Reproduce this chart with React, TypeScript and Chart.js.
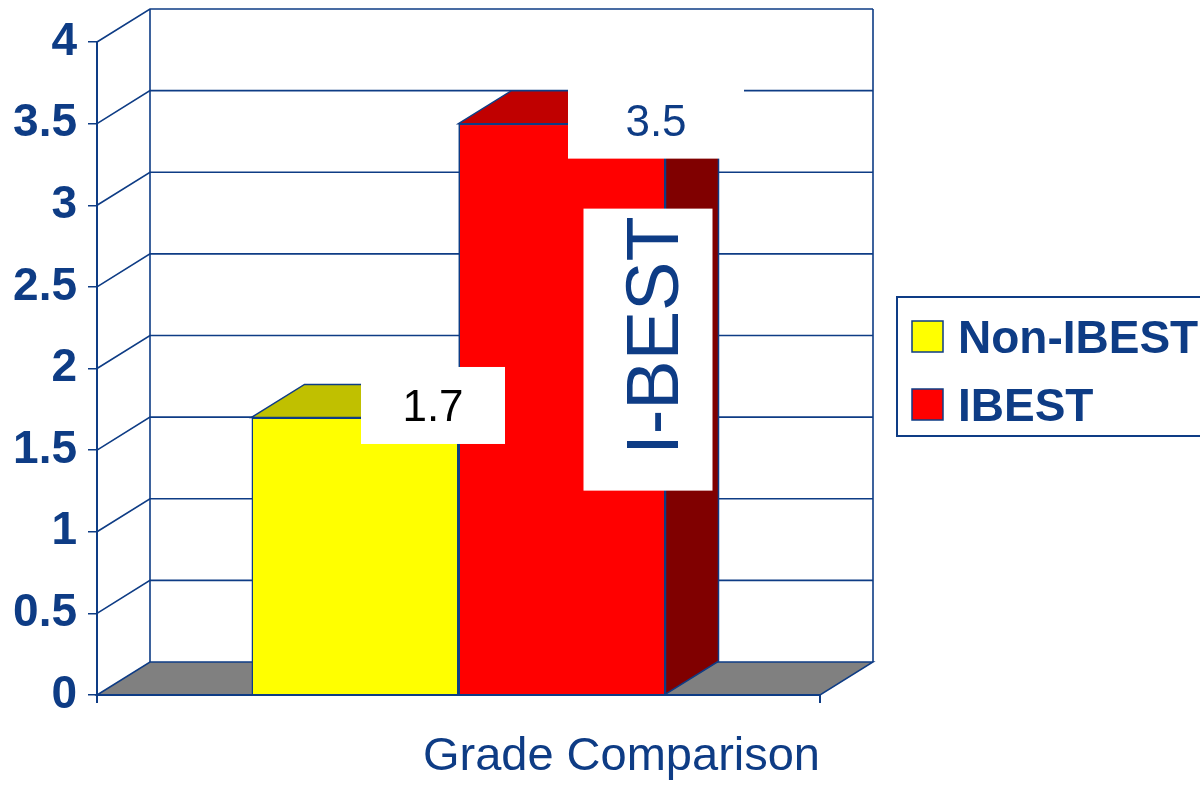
import React, { useEffect, useRef } from "react";
import { Chart, registerables } from "chart.js";

Chart.register(...registerables);

// ---- data ----
const categories = ["Grade Comparison"];
const seriesNames = ["Non-IBEST", "IBEST"];
const nonIbestValues = [1.7];
const ibestValues = [3.5];
const yTickValues = [0, 0.5, 1, 1.5, 2, 2.5, 3, 3.5, 4];
const annotationText = "I-BEST";

// ---- styles ----
const NAVY = "#0E3C85";
const FRONT = ["#FFFF00", "#FF0000"];
const TOPC = ["#C0C000", "#C00000"];
const SIDEC = ["#A0A000", "#800000"];
const DX = 53;
const DY = -33;
const FONT = '"Liberation Sans", Arial, Helvetica, sans-serif';

function poly(ctx: CanvasRenderingContext2D, pts: number[][], fill: string) {
  ctx.beginPath();
  ctx.moveTo(pts[0][0], pts[0][1]);
  for (let i = 1; i < pts.length; i++) ctx.lineTo(pts[i][0], pts[i][1]);
  ctx.closePath();
  ctx.fillStyle = fill;
  ctx.fill();
  ctx.strokeStyle = NAVY;
  ctx.lineWidth = 1.5;
  ctx.stroke();
}

const threeD = {
  id: "threeD",
  beforeDatasetsDraw(chart: any) {
    const { ctx, chartArea: ca } = chart;
    const y = chart.scales.y;
    const y0 = y.getPixelForValue(0);
    ctx.save();
    poly(ctx, [[ca.left, y0], [ca.left + DX, y0 + DY], [ca.right + DX, y0 + DY], [ca.right, y0]], "#808080");
    ctx.strokeStyle = NAVY;
    ctx.lineWidth = 1.6;
    yTickValues.forEach((v) => {
      if (v === 0) return;
      const py = y.getPixelForValue(v);
      ctx.beginPath();
      ctx.moveTo(ca.left, py);
      ctx.lineTo(ca.left + DX, py + DY);
      ctx.lineTo(ca.right + DX, py + DY);
      ctx.stroke();
    });
    const yTop = y.getPixelForValue(yTickValues[yTickValues.length - 1]) + DY;
    ctx.beginPath();
    ctx.moveTo(ca.left + DX, yTop);
    ctx.lineTo(ca.left + DX, y0 + DY);
    ctx.moveTo(ca.right + DX, yTop);
    ctx.lineTo(ca.right + DX, y0 + DY);
    ctx.stroke();
    ctx.restore();
  },
  afterDatasetsDraw(chart: any) {
    const { ctx, chartArea: ca } = chart;
    const y = chart.scales.y;
    const y0 = y.getPixelForValue(0);
    ctx.save();
    const faces = (i: number) => {
      const el = chart.getDatasetMeta(i).data[0];
      const p = el.getProps(["x", "y", "base", "width"], true);
      const l = p.x - p.width / 2;
      const r = p.x + p.width / 2;
      poly(ctx, [[r, p.y], [r + DX, p.y + DY], [r + DX, p.base + DY], [r, p.base]], SIDEC[i]);
      poly(ctx, [[l, p.y], [l + DX, p.y + DY], [r + DX, p.y + DY], [r, p.y]], TOPC[i]);
    };
    faces(0);
    chart.getDatasetMeta(1).data[0].draw(ctx);
    faces(1);

    // front axis line and ticks
    ctx.strokeStyle = NAVY;
    ctx.lineWidth = 2;
    ctx.beginPath();
    ctx.moveTo(ca.left, y0);
    ctx.lineTo(ca.right, y0);
    ctx.moveTo(ca.left, y0);
    ctx.lineTo(ca.left, y0 + 8);
    ctx.moveTo(ca.right, y0);
    ctx.lineTo(ca.right, y0 + 8);
    ctx.stroke();

    // value labels in white boxes
    const labelStyles = [
      { ox: 78, oy: -12, w: 144, h: 77, color: "#000000" },
      { ox: 94, oy: -4, w: 176, h: 78, color: NAVY },
    ];
    const values = [nonIbestValues, ibestValues];
    labelStyles.forEach((s, i) => {
      const el = chart.getDatasetMeta(i).data[0];
      const p = el.getProps(["x", "y"], true);
      const cx = p.x + s.ox;
      const cy = p.y + s.oy;
      ctx.fillStyle = "#FFFFFF";
      ctx.fillRect(cx - s.w / 2, cy - s.h / 2, s.w, s.h);
      ctx.fillStyle = s.color;
      ctx.font = `44px ${FONT}`;
      ctx.textAlign = "center";
      ctx.textBaseline = "alphabetic";
      ctx.fillText(String(values[i][0]), cx, cy + 16);
    });

    // I-BEST annotation
    const red = chart.getDatasetMeta(1).data[0].getProps(["x", "y"], true);
    const bx = red.x + 21.5;
    const by = red.y + 85;
    ctx.fillStyle = "#FFFFFF";
    ctx.fillRect(bx, by, 129, 282);
    ctx.save();
    ctx.translate(bx + 95, by + 127);
    ctx.rotate(-Math.PI / 2);
    ctx.fillStyle = NAVY;
    ctx.font = `74px ${FONT}`;
    ctx.textAlign = "center";
    ctx.textBaseline = "alphabetic";
    ctx.fillText(annotationText, 0, 0);
    ctx.restore();
    ctx.restore();
  },
  afterDraw(chart: any) {
    const { ctx } = chart;
    ctx.save();
    ctx.strokeStyle = NAVY;
    ctx.lineWidth = 2;
    ctx.strokeRect(897, 297, 400, 139);
    chart.data.datasets.forEach((ds: any, i: number) => {
      const top = 321 + i * 68;
      ctx.fillStyle = ds.backgroundColor;
      ctx.fillRect(912, top, 31, 31);
      ctx.strokeStyle = NAVY;
      ctx.lineWidth = 1.5;
      ctx.strokeRect(912, top, 31, 31);
      ctx.fillStyle = NAVY;
      ctx.font = `bold 46px ${FONT}`;
      ctx.textAlign = "left";
      ctx.textBaseline = "alphabetic";
      ctx.fillText(ds.label, 958, top + 32);
    });
    ctx.restore();
  },
};

export default function App() {
  const ref = useRef<HTMLCanvasElement | null>(null);
  useEffect(() => {
    if (!ref.current) return;
    const chart = new Chart(ref.current, {
      type: "bar",
      data: {
        labels: categories,
        datasets: [
          {
            label: seriesNames[0],
            data: nonIbestValues,
            backgroundColor: FRONT[0],
            borderColor: NAVY,
            borderWidth: 1.5,
            categoryPercentage: 0.5726,
            barPercentage: 1,
          },
          {
            label: seriesNames[1],
            data: ibestValues,
            backgroundColor: FRONT[1],
            borderColor: NAVY,
            borderWidth: 1.5,
            categoryPercentage: 0.5726,
            barPercentage: 1,
          },
        ],
      },
      options: {
        animation: false,
        responsive: false,
        layout: { padding: { top: 42, right: 380, left: 0, bottom: 0 } },
        plugins: { legend: { display: false }, tooltip: { enabled: false } },
        scales: {
          x: {
            grid: { display: false, drawTicks: false },
            border: { display: false },
            ticks: { display: false },
            title: {
              display: true,
              text: categories[0],
              align: "end",
              color: NAVY,
              font: { family: FONT, size: 47, weight: "normal" },
              padding: { top: 34, bottom: 2 },
            },
            afterFit: (s: any) => {
              s.height = 92;
            },
          },
          y: {
            min: 0,
            max: 4,
            ticks: {
              stepSize: 0.5,
              color: NAVY,
              padding: 11,
              font: { family: FONT, size: 46, weight: "bold" },
              callback: (v: any) => String(Number(v)),
            },
            grid: {
              drawOnChartArea: false,
              drawTicks: true,
              tickLength: 9,
              color: NAVY,
              lineWidth: 1.5,
            },
            border: { color: NAVY, width: 2 },
            afterFit: (s: any) => {
              s.width = 97;
            },
          },
        },
      },
      plugins: [threeD],
    });
    return () => chart.destroy();
  }, []);
  return (
    <div style={{ position: "fixed", left: 0, top: 0, width: 1200, height: 787, background: "#fff" }}>
      <canvas ref={ref} width={1200} height={787} style={{ display: "block" }} />
    </div>
  );
}
